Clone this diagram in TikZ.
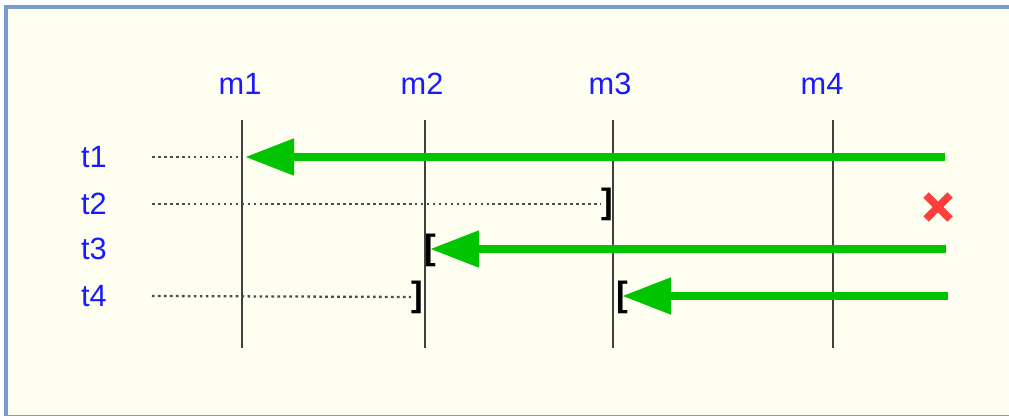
\documentclass[tikz,border=0pt]{standalone}
\usepackage{fontspec}
\setmainfont{Liberation Sans}
\usetikzlibrary{arrows.meta}
\usetikzlibrary{positioning}

\definecolor{paper}{HTML}{FEFFF0}
\definecolor{frameblue}{HTML}{7B9CC9}
\definecolor{lblblue}{HTML}{1A1AFF}
\definecolor{okgreen}{HTML}{00C400}
\definecolor{nokred}{HTML}{FF3D3D}

\tikzset{
  lbl/.style={text=lblblue, font=\fontsize{17.5}{20}\selectfont, inner sep=0pt},
  machine/.style={draw=black!75, line width=1.1pt},
  waiting/.style={draw=black!70, line width=1.3pt, dash pattern=on 1.5pt off 1.9pt},
  moving/.style={draw=okgreen, line width=4.6pt, -{Triangle[length=28pt,width=20pt]}},
  brk/.style={font=\bfseries\fontsize{20}{20}\selectfont, inner sep=0pt},
  failed/.style={draw=nokred, line width=4.4pt}
}

\begin{document}
\begin{tikzpicture}[x=0.02cm, y=-0.02cm]
        \useasboundingbox (0,0) rectangle (1009,416);
        \clip (0,0) rectangle (1009,416);
        \draw[frameblue, line width=1.8pt, fill=paper] (6,7) rectangle (1040,416.5);

        % machines
        \node[lbl] (m1) at (240,84) {m1};
        \node[lbl] (m2) at (422,84) {m2};
        \node[lbl] (m3) at (610,84) {m3};
        \node[lbl] (m4) at (822,84) {m4};
        \foreach \n/\x in {1/242, 2/425, 3/613, 4/833}
            \draw[machine] (\x,120) coordinate (top\n) -- (\x,348) coordinate (bot\n);

        % tasks
        \foreach \n/\y in {1/157, 2/204, 3/249, 4/296}
            \node[lbl] (t\n) at (94,\y) {t\n};

        % brackets
        \node[brk] (c2) at (607,204) {]};
        \node[brk] (o3) at (430,250) {[};
        \node[brk] (c4) at (417,297) {]};
        \node[brk] (o4) at (622,297) {[};

        % waiting
        \draw[waiting] (152,157) coordinate (w1) -- (w1 -| top1);
        \draw[waiting] (152,204) coordinate (w2) -- (c2.west);
        \draw[waiting] (152,296) coordinate (w4) -- (c4.west);

        % moving
        \draw[moving] (945,157) coordinate (s1) -- (245,157);
        \draw[moving] (946,249) coordinate (s3) -- (s3 -| o3.center);
        \draw[moving] (948,296) coordinate (s4) -- (s4 -| o4.center);

        % t2 fails
        \coordinate (x2) at (938,207);
        \draw[failed] ([shift={(-12,-12)}]x2) -- ([shift={(12,12)}]x2);
        \draw[failed] ([shift={(-12,12)}]x2) -- ([shift={(12,-12)}]x2);
    \end{tikzpicture}
\end{document}
